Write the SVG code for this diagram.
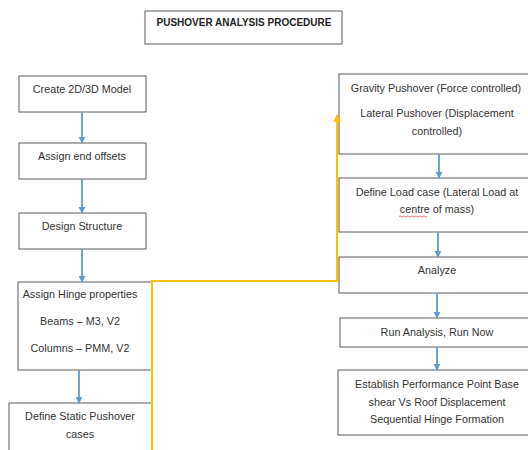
<svg xmlns="http://www.w3.org/2000/svg" width="528" height="450" viewBox="0 0 528 450">
  <style>
    .box { fill: #ffffff; stroke: #5a5a5a; stroke-width: 1; }
    .lbl { font-family: "Liberation Sans", Arial, sans-serif; font-size: 10.8px; fill: #333333; text-anchor: middle; }
    .ttl { font-family: "Liberation Sans", Arial, sans-serif; font-size: 10px; font-weight: bold; fill: #222222; text-anchor: middle; }
    .flow { fill: none; stroke: #5b9bd5; stroke-width: 1.8; marker-end: url(#blueHead); }
    .link { fill: none; stroke: #ffc000; stroke-width: 2; marker-end: url(#goldHead); }
  </style>
  <defs>
    <marker id="blueHead" viewBox="0 0 10 10" refX="9" refY="5" markerWidth="4" markerHeight="4" orient="auto">
      <path d="M0,0 L10,5 L0,10 z" fill="#5b9bd5"/>
    </marker>
    <marker id="goldHead" viewBox="0 0 10 10" refX="9" refY="5" markerWidth="4" markerHeight="4" orient="auto">
      <path d="M0,0 L10,5 L0,10 z" fill="#ffc000"/>
    </marker>
  </defs>
  <rect width="528" height="450" fill="#ffffff"/>

  <g id="title">
    <rect class="box" x="145" y="11" width="197" height="33"/>
    <text class="ttl" x="244" y="26">PUSHOVER ANALYSIS PROCEDURE</text>
  </g>

  <!-- left column -->
  <g id="create-model">
    <rect class="box" x="19" y="76" width="127" height="36"/>
    <text class="lbl" x="82" y="93">Create 2D/3D Model</text>
  </g>
  <g id="end-offsets">
    <rect class="box" x="19" y="143" width="127" height="36"/>
    <text class="lbl" x="82" y="160">Assign end offsets</text>
  </g>
  <g id="design-structure">
    <rect class="box" x="19" y="213" width="127" height="36"/>
    <text class="lbl" x="82" y="230">Design Structure</text>
  </g>
  <g id="hinge-properties">
    <rect class="box" x="18" y="282" width="134" height="88"/>
    <text class="lbl" x="80" y="298">Assign Hinge properties</text>
    <text class="lbl" x="80" y="325">Beams – M3, V2</text>
    <text class="lbl" x="80" y="352">Columns – PMM, V2</text>
  </g>
  <g id="static-pushover">
    <rect class="box" x="9" y="403" width="143" height="60"/>
    <text class="lbl" x="80" y="420">Define Static Pushover</text>
    <text class="lbl" x="80" y="438">cases</text>
  </g>

  <!-- right column -->
  <g id="pushover-cases">
    <rect class="box" x="339" y="74" width="200" height="80"/>
    <text class="lbl" x="436" y="92">Gravity Pushover (Force controlled)</text>
    <text class="lbl" x="437" y="117">Lateral Pushover  (Displacement</text>
    <text class="lbl" x="437" y="135">controlled)</text>
  </g>
  <g id="load-case">
    <rect class="box" x="339" y="178" width="200" height="54"/>
    <text class="lbl" x="437" y="196">Define Load case (Lateral Load at</text>
    <text class="lbl" x="437" y="213">centre of mass)</text>
    <path d="M399,216.5 q1,-1.2 2,0 t2,0 t2,0 t2,0 t2,0 t2,0 t2,0 t2,0 t2,0 t2,0 t2,0 t2,0 t2,0 t2,0" fill="none" stroke="#e03030" stroke-width="0.7"/>
  </g>
  <g id="analyze">
    <rect class="box" x="339" y="257" width="200" height="36"/>
    <text class="lbl" x="437" y="274">Analyze</text>
  </g>
  <g id="run-analysis">
    <rect class="box" x="340" y="318" width="200" height="29"/>
    <text class="lbl" x="437" y="336">Run Analysis, Run Now</text>
  </g>
  <g id="performance-point">
    <rect class="box" x="338" y="370" width="200" height="65"/>
    <text class="lbl" x="437" y="388">Establish Performance Point Base</text>
    <text class="lbl" x="437" y="406">shear Vs Roof Displacement</text>
    <text class="lbl" x="437" y="423">Sequential Hinge Formation</text>
  </g>

  <g id="connectors">
    <line class="flow" x1="82" y1="112" x2="82" y2="143"/>
    <line class="flow" x1="82" y1="179" x2="82" y2="213"/>
    <line class="flow" x1="82" y1="249" x2="82" y2="282"/>
    <line class="flow" x1="79" y1="370" x2="79" y2="403"/>
    <line class="flow" x1="439" y1="154" x2="439" y2="178"/>
    <line class="flow" x1="438" y1="232" x2="438" y2="257"/>
    <line class="flow" x1="437" y1="293" x2="437" y2="318"/>
    <line class="flow" x1="437" y1="347" x2="437" y2="370"/>
    <polyline class="link" points="152,450 152,281 337,281 337,115"/>
  </g>
</svg>
